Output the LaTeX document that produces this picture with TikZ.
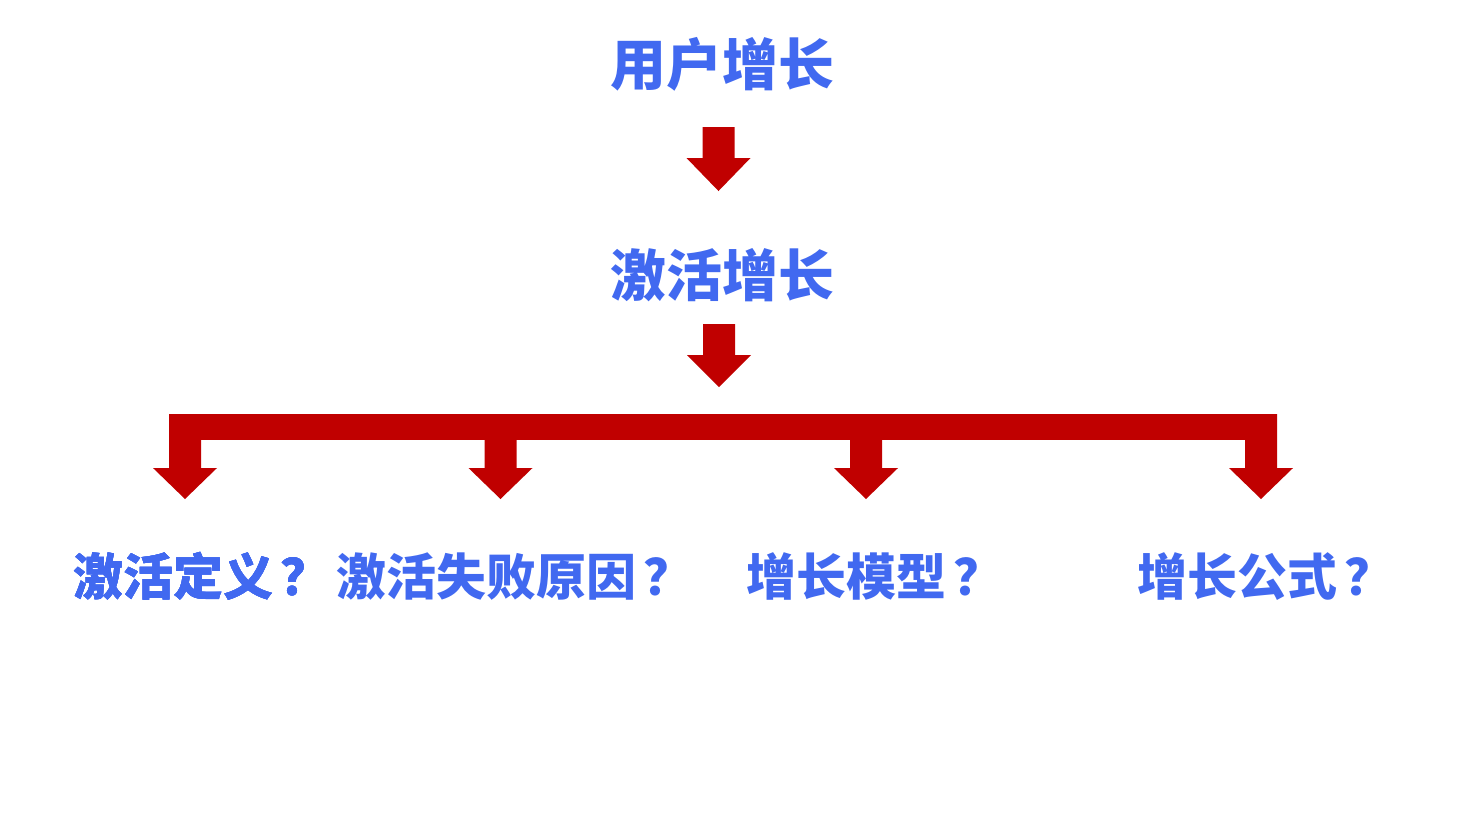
\documentclass[tikz,border=0pt]{standalone}
\usepackage{fontspec}
\newfontfamily\cjk{Noto Sans CJK SC}
\usetikzlibrary{positioning}
\definecolor{txtblue}{RGB}{65,105,240}
\definecolor{arrowred}{RGB}{192,0,0}
% block arrow pointing down: centre x, shaft top, head top, tip
\newcommand{\blockdown}[4]{%
  \fill[arrowred] (#1-16,#2) -- (#1+16,#2) -- (#1+16,#3) -- (#1+32,#3)
    -- (#1,#4) -- (#1-32,#3) -- (#1-16,#3) -- cycle;}
\newcommand{\qmark}{\hspace{0.15em}？}
\tikzset{
  title/.style={text=txtblue, inner sep=0pt, anchor=base,
    font=\cjk\bfseries\fontsize{15.9pt}{19pt}\selectfont},
  question/.style={text=txtblue, inner sep=0pt, anchor=base west,
    font=\cjk\bfseries\fontsize{14.2pt}{17pt}\selectfont}
}
\begin{document}
\begin{tikzpicture}[x=0.01cm,y=-0.01cm]
  \useasboundingbox (0,0) rectangle (1478,829);
  % top levels
  \node[title] (user) at (722.5,85) {用户增长};
  \blockdown{718.5}{127}{158}{191}
  \node[title] (activ) at (722.5,296) {激活增长};
  \blockdown{719}{324}{355}{387}
  % branching bracket
  \fill[arrowred] (169,414) rectangle (1277,440);
  \foreach \x in {185,500.5,866,1261}
    \blockdown{\x}{414}{468}{499}
  % questions
  \node[question] (def) at (73,595) {激活定义\qmark};
  \node[question] (fail) at (336,595) {激活失败原因\qmark};
  \node[question] (model) at (746,595) {增长模型\qmark};
  \node[question] (formula) at (1137,595) {增长公式\qmark};
\end{tikzpicture}
\end{document}
